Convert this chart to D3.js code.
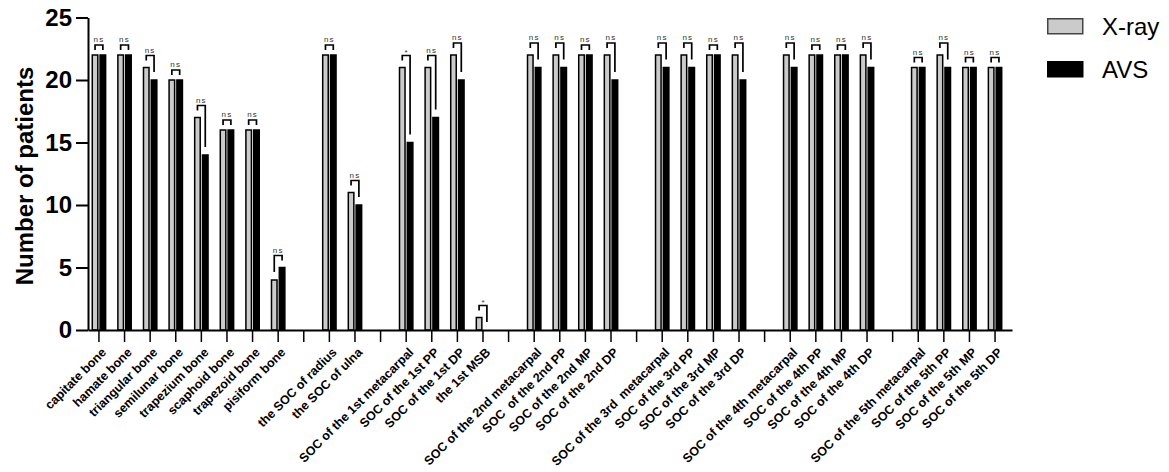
<!DOCTYPE html>
<html>
<head>
<meta charset="utf-8">
<script src="https://cdn.jsdelivr.net/npm/d3@7"></script>
<style>
  body { margin: 0; background: #fff; }
  text { font-family: Arial, 'Liberation Sans', sans-serif; }
</style>
</head>
<body>
<div id="chart-area"></div>
<script>
// categories ('' = empty gap slot on the axis)
const categories = [
  'capitate bone', 'hamate bone', 'triangular bone', 'semilunar bone',
  'trapezium bone', 'scaphoid bone', 'trapezoid bone', 'pisiform bone', '',
  'the SOC of radius', 'the SOC of ulna', '',
  'SOC of the 1st metacarpal', 'SOC of the 1st PP', 'SOC of the 1st DP', 'the 1st MSB', '',
  'SOC of the 2nd metacarpal', 'SOC  of the 2nd PP', 'SOC of the 2nd MP', 'SOC of the 2nd DP', '',
  'SOC of the 3rd  metacarpal', 'SOC of the 3rd PP', 'SOC of the 3rd MP', 'SOC of the 3rd DP', '',
  'SOC of the 4th metacarpal', 'SOC of the 4th PP', 'SOC of the 4th MP', 'SOC of the 4th DP', '',
  'SOC of the 5th metacarpal', 'SOC of the 5th PP', 'SOC of the 5th MP', 'SOC of the 5th DP'
];
const xray = [22, 22, 21, 20, 17, 16, 16, 4, null, 22, 11, null, 21, 21, 22, 1, null,
  22, 22, 22, 22, null, 22, 22, 22, 22, null, 22, 22, 22, 22, null, 21, 22, 21, 21];
const avs = [22, 22, 20, 20, 14, 16, 16, 5, null, 22, 10, null, 15, 17, 20, 0, null,
  21, 21, 22, 20, null, 21, 21, 22, 20, null, 21, 22, 22, 21, null, 21, 21, 21, 21];
const signif = ['ns', 'ns', 'ns', 'ns', 'ns', 'ns', 'ns', 'ns', null, 'ns', 'ns', null,
  '*', 'ns', 'ns', '*', null, 'ns', 'ns', 'ns', 'ns', null, 'ns', 'ns', 'ns', 'ns', null,
  'ns', 'ns', 'ns', 'ns', null, 'ns', 'ns', 'ns', 'ns'];
const series = ['X-ray', 'AVS'];
const colors = ['#cbcbcb', '#000000'];
const yTicks = [0, 5, 10, 15, 20, 25];

const W = 1169, H = 472;

const svg = d3.select('#chart-area').append('svg')
  .attr('width', W)
  .attr('height', H);

// scales
const x = d3.scaleBand()
  .domain(d3.range(categories.length))
  .range([88, 1012])
  .paddingInner(0.42)
  .paddingOuter(0.255)
  .align(0.27);

const x1 = d3.scaleBand()
  .domain(series)
  .range([0, x.bandwidth()])
  .paddingInner(0.1);

const y = d3.scaleLinear()
  .domain([0, 25])
  .range([330, 17.5]);

// bars
const idx = d3.range(categories.length).filter(i => xray[i] !== null);
const vals = [xray, avs];

series.forEach((s, si) => {
  svg.append('g').selectAll('rect')
    .data(idx)
    .enter().append('rect')
      .attr('x', i => x(i) + x1(s) + 0.75)
      .attr('y', i => y(vals[si][i]))
      .attr('width', x1.bandwidth() - 1.5)
      .attr('height', i => y(0) - y(vals[si][i]))
      .attr('fill', colors[si])
      .attr('stroke', '#000')
      .attr('stroke-width', 1.5);
});

// significance brackets
const br = svg.append('g');
idx.forEach(i => {
  const cx0 = x(i) + x1('X-ray') + x1.bandwidth() / 2;
  const cx1 = x(i) + x1('AVS') + x1.bandwidth() / 2;
  const hi = Math.max(xray[i], avs[i]);
  const top = y(hi) - (xray[i] === avs[i] ? 10 : 12);
  const leg = v => v === hi ? top + 5 : Math.max(top + 5, y(v) - 8);
  br.append('path')
    .attr('d', `M${cx0},${leg(xray[i])}V${top}H${cx1}V${leg(avs[i])}`)
    .attr('fill', 'none')
    .attr('stroke', '#000')
    .attr('stroke-width', 1.7);
  br.append('text')
    .attr('x', (cx0 + cx1) / 2)
    .attr('y', top - (signif[i] === '*' ? 1 : 3))
    .attr('text-anchor', 'middle')
    .attr('font-size', '8px')
    .attr('letter-spacing', signif[i] === '*' ? 0 : '1.2px')
    .attr('fill', '#333')
    .text(signif[i]);
});

// x axis
const xAxis = svg.append('g')
  .attr('transform', `translate(0, ${y(0)})`)
  .call(d3.axisBottom(x).tickSize(12).tickSizeOuter(0).tickFormat(i => categories[i]));
xAxis.select('.domain').attr('stroke-width', 2);
xAxis.selectAll('.tick line').attr('stroke-width', 1.5);
xAxis.selectAll('text')
  .attr('x', 0)
  .attr('y', 0)
  .attr('dy', '0.35em')
  .attr('text-anchor', 'end')
  .attr('transform', 'translate(5, 20) rotate(-45)')
  .attr('font-size', '12.5px')
  .attr('font-weight', 'bold')
  .attr('fill', '#000')
  .style('white-space', 'pre');

// y axis
const yAxis = svg.append('g')
  .attr('transform', 'translate(88, 0)')
  .call(d3.axisLeft(y).tickValues(yTicks).tickSize(12).tickSizeOuter(0).tickPadding(4));
yAxis.select('.domain').attr('stroke-width', 2);
yAxis.selectAll('.tick line').attr('stroke-width', 2);
yAxis.selectAll('text')
  .attr('font-size', '24px')
  .attr('font-weight', 'bold')
  .attr('fill', '#000');

// y axis label
svg.append('text')
  .attr('transform', 'rotate(-90)')
  .attr('x', -176)
  .attr('y', 33)
  .attr('text-anchor', 'middle')
  .attr('font-size', '24px')
  .attr('font-weight', 'bold')
  .text('Number of patients');

// legend
const legend = svg.append('g').attr('transform', 'translate(1047, 18)');
series.forEach((s, si) => {
  legend.append('rect')
    .attr('x', 0.75)
    .attr('y', si * 43 + 0.75)
    .attr('width', 35)
    .attr('height', 15)
    .attr('fill', colors[si])
    .attr('stroke', si === 0 ? '#444' : '#000')
    .attr('stroke-width', 1.5);
  legend.append('text')
    .attr('x', 55)
    .attr('y', si * 43 + 9)
    .attr('dy', '0.35em')
    .attr('font-size', '24px')
    .text(s);
});
</script>
</body>
</html>
